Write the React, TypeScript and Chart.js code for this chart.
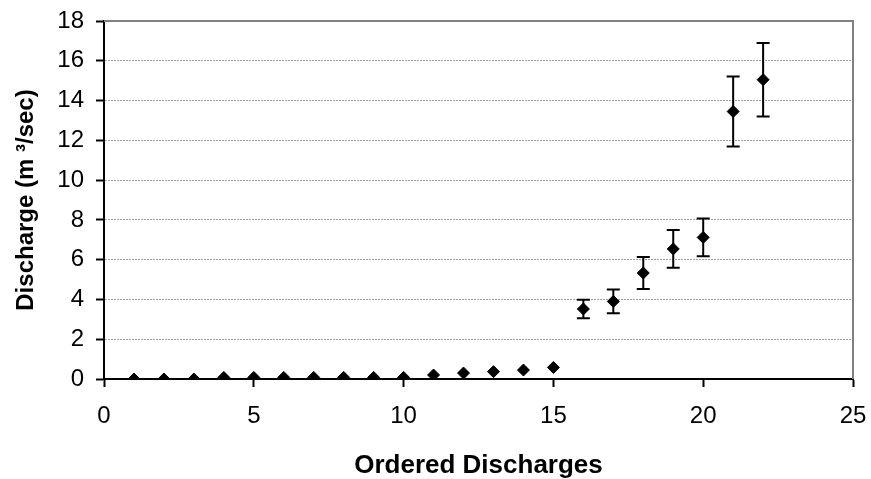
import React, { useEffect, useRef } from 'react';
import { Chart, registerables } from 'chart.js';

Chart.register(...registerables);

const orderRanks = [1, 2, 3, 4, 5, 6, 7, 8, 9, 10, 11, 12, 13, 14, 15, 16, 17, 18, 19, 20, 21, 22];
const dischargeValues = [0, 0, 0, 0.08, 0.08, 0.08, 0.08, 0.08, 0.08, 0.08, 0.2, 0.3, 0.37, 0.45, 0.58, 3.52, 3.9, 5.33, 6.54, 7.12, 13.45, 15.05];
const dischargeErrors = [0, 0, 0, 0, 0, 0, 0, 0, 0, 0, 0, 0, 0, 0, 0, 0.47, 0.6, 0.8, 0.95, 0.95, 1.76, 1.85];

const xTitle = 'Ordered Discharges';
const yTitle = 'Discharge (m \u00B3/sec)';

const FONT = "'Liberation Sans', Arial, sans-serif";

const errorBarPlugin = {
  id: 'errorBars',
  beforeDatasetsDraw(chart: any) {
    const { ctx } = chart;
    const x = chart.scales.x;
    const y = chart.scales.y;
    ctx.save();
    ctx.strokeStyle = '#000';
    ctx.lineWidth = 2;
    const cap = 6.5;
    orderRanks.forEach((r, i) => {
      const e = dischargeErrors[i];
      if (!e) return;
      const px = x.getPixelForValue(r);
      const top = y.getPixelForValue(dischargeValues[i] + e);
      const bot = y.getPixelForValue(dischargeValues[i] - e);
      ctx.beginPath();
      ctx.moveTo(px, top);
      ctx.lineTo(px, bot);
      ctx.moveTo(px - cap, top);
      ctx.lineTo(px + cap, top);
      ctx.moveTo(px - cap, bot);
      ctx.lineTo(px + cap, bot);
      ctx.stroke();
    });
    ctx.restore();
  },
};

const framePlugin = {
  id: 'frame',
  afterDraw(chart: any) {
    const { ctx, chartArea } = chart;
    ctx.save();
    ctx.strokeStyle = '#808080';
    ctx.lineWidth = 2;
    ctx.beginPath();
    ctx.moveTo(chartArea.left, chartArea.top);
    ctx.lineTo(chartArea.right, chartArea.top);
    ctx.lineTo(chartArea.right, chartArea.bottom);
    ctx.stroke();
    ctx.restore();
  },
};

export default function App() {
  const canvasRef = useRef<HTMLCanvasElement | null>(null);

  useEffect(() => {
    const canvas = canvasRef.current;
    if (!canvas) return;
    const chart = new Chart(canvas, {
      type: 'scatter',
      data: {
        datasets: [
          {
            label: 'Discharge',
            data: orderRanks.map((r, i) => ({ x: r, y: dischargeValues[i] })),
            pointStyle: 'rectRot',
            pointRadius: 6,
            pointHoverRadius: 6,
            backgroundColor: '#000',
            borderColor: '#000',
            borderWidth: 1,
            showLine: false,
          },
        ],
      },
      options: {
        responsive: false,
        animation: false,
        events: [],
        layout: { padding: { left: 0, top: 21, right: 18, bottom: 0 } },
        plugins: {
          legend: { display: false },
          tooltip: { enabled: false },
        },
        scales: {
          x: {
            type: 'linear',
            min: 0,
            max: 25,
            afterFit: (scale: any) => {
              scale.height = 100;
              scale.paddingLeft = 0;
              scale.paddingRight = 0;
            },
            ticks: {
              stepSize: 5,
              color: '#000',
              padding: 15,
              font: { family: FONT, size: 24, lineHeight: 1.2 },
            },
            grid: {
              drawOnChartArea: false,
              tickColor: '#000',
              tickLength: 8,
              tickWidth: 2,
            },
            border: { display: true, color: '#000', width: 2 },
            title: {
              display: true,
              text: xTitle,
              color: '#000',
              padding: { top: 0, bottom: 0 },
              font: { family: FONT, size: 26, weight: 'bold', lineHeight: 1 },
            },
          },
          y: {
            type: 'linear',
            min: 0,
            max: 18,
            afterFit: (scale: any) => {
              scale.width = 104;
              scale.paddingTop = 0;
              scale.paddingBottom = 0;
            },
            ticks: {
              stepSize: 2,
              color: '#000',
              padding: 12,
              font: { family: FONT, size: 24, lineHeight: 1.2 },
            },
            grid: {
              color: '#a0a0a0',
              lineWidth: 1,
              tickColor: '#000',
              tickLength: 8,
              tickWidth: 2,
            },
            border: { display: true, color: '#000', width: 2, dash: [2, 1] },
            title: {
              display: true,
              text: yTitle,
              color: '#000',
              padding: { top: 12, bottom: 0 },
              font: { family: FONT, size: 24, weight: 'bold', lineHeight: 1.2 },
            },
          },
        },
      },
      plugins: [errorBarPlugin, framePlugin],
    });
    return () => chart.destroy();
  }, []);

  return (
    <div style={{ position: 'absolute', left: 0, top: 0, width: 871, height: 479, background: '#fff' }}>
      <canvas ref={canvasRef} width={871} height={479} style={{ display: 'block' }} />
    </div>
  );
}
